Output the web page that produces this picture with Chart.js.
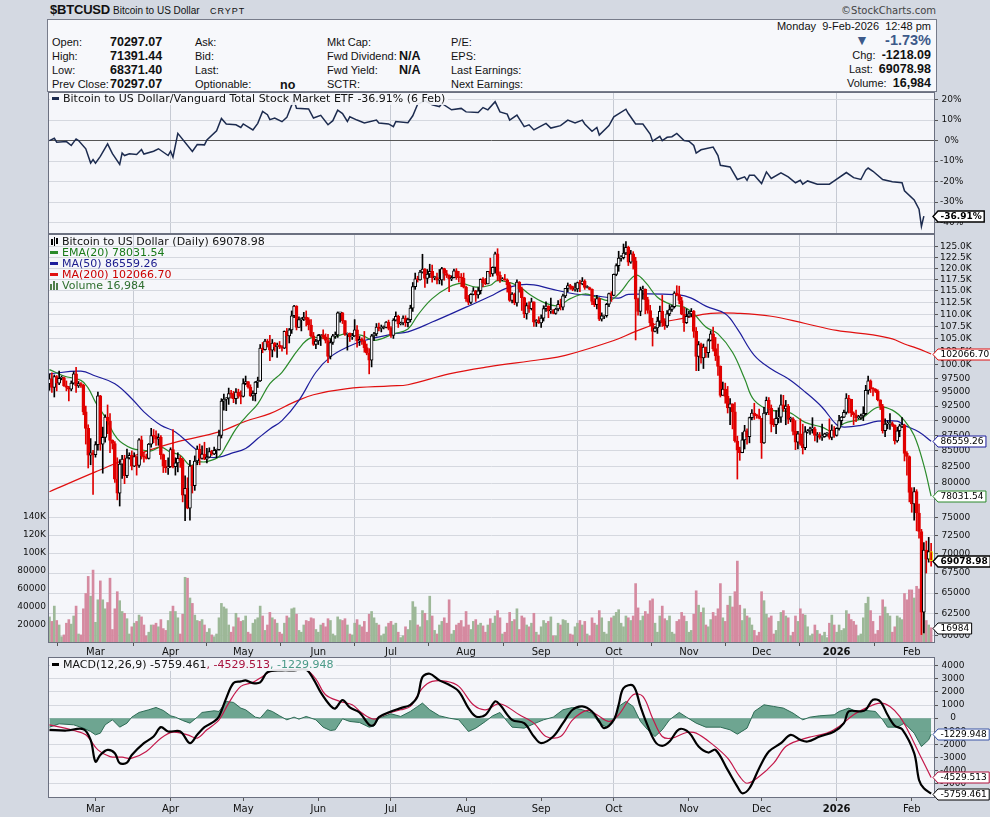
<!DOCTYPE html>
<html>
<head>
<meta charset="utf-8">
<title>$BTCUSD Bitcoin to US Dollar</title>
<script src="https://cdn.jsdelivr.net/npm/chart.js@4.4.0/dist/chart.umd.min.js"></script>
<style>
  html, body { margin: 0; padding: 0; }
  body { width: 990px; height: 817px; background: #d4d9e2; position: relative; overflow: hidden;
         font-family: "Liberation Sans", Arial, sans-serif; color: #111; }
  canvas { position: absolute; left: 0; }
  .t { position: absolute; white-space: nowrap; line-height: 14px; font-size: 11px; }
  .b { font-weight: bold; font-size: 12.5px; }
  .lg { position: absolute; font-family: "DejaVu Sans", Verdana, sans-serif; font-size: 11px; line-height: 11px;
        white-space: nowrap; z-index: 2; }
  .mk { display: inline-block; width: 8px; height: 3px; vertical-align: middle; margin-right: 4px; position: relative; top: -1px; }
</style>
</head>
<body>
<div class="t b" style="left:50px;top:3px;font-size:13px;letter-spacing:-0.2px;">$BTCUSD</div>
<div class="t" style="left:113px;top:4px;font-size:10px;">Bitcoin to US Dollar</div>
<div class="t" style="left:210px;top:4px;font-size:9px;letter-spacing:1px;">CRYPT</div>
<div class="t" style="right:54px;top:4px;font-family:'DejaVu Sans';font-size:10px;color:#444;">&copy;StockCharts.com</div>

<div style="position:absolute;left:47px;top:19px;width:890px;height:73px;box-sizing:border-box;background:#f7f8fb;border:1px solid #777c8a;"></div>
<div class="t" style="left:52px;top:35px;">Open:</div>
<div class="t" style="left:52px;top:49px;">High:</div>
<div class="t" style="left:52px;top:63px;">Low:</div>
<div class="t" style="left:52px;top:77px;">Prev Close:</div>
<div class="t b" style="left:110px;top:35px;">70297.07</div>
<div class="t b" style="left:110px;top:49px;">71391.44</div>
<div class="t b" style="left:110px;top:63px;">68371.40</div>
<div class="t b" style="left:110px;top:77px;">70297.07</div>
<div class="t" style="left:195px;top:35px;">Ask:</div>
<div class="t" style="left:195px;top:49px;">Bid:</div>
<div class="t" style="left:195px;top:63px;">Last:</div>
<div class="t" style="left:195px;top:77px;">Optionable:</div>
<div class="t b" style="left:280px;top:78px;">no</div>
<div class="t" style="left:327px;top:35px;">Mkt Cap:</div>
<div class="t" style="left:327px;top:49px;">Fwd Dividend:</div>
<div class="t" style="left:327px;top:63px;">Fwd Yield:</div>
<div class="t" style="left:327px;top:77px;">SCTR:</div>
<div class="t b" style="left:399px;top:49px;">N/A</div>
<div class="t b" style="left:399px;top:63px;">N/A</div>
<div class="t" style="left:451px;top:35px;">P/E:</div>
<div class="t" style="left:451px;top:49px;">EPS:</div>
<div class="t" style="left:451px;top:63px;">Last Earnings:</div>
<div class="t" style="left:451px;top:77px;">Next Earnings:</div>
<div class="t" style="right:59px;top:19px;font-size:11px;">Monday&nbsp; 9-Feb-2026&nbsp; 12:48 pm</div>
<div class="t" style="left:855px;top:33px;font-size:14px;color:#3d5a8a;">&#9660;</div>
<div class="t b" style="right:59px;top:33px;font-size:14.5px;color:#3d5a8a;">-1.73%</div>
<div class="t" style="right:59px;top:48px;">Chg:&nbsp; <b style="font-size:12.5px">-1218.09</b></div>
<div class="t" style="right:59px;top:62px;">Last:&nbsp; <b style="font-size:12.5px">69078.98</b></div>
<div class="t" style="right:59px;top:76px;">Volume:&nbsp; <b style="font-size:12.5px">16,984</b></div>

<canvas id="rel" width="990" height="142" style="top:92px"></canvas>
<canvas id="price" width="990" height="423" style="top:234px"></canvas>
<canvas id="macd" width="990" height="160" style="top:657px"></canvas>

<div class="lg" style="left:50px;top:93px;padding:0 3px 1px 2px;background:rgba(245,246,250,0.9);">
  <span class="mk" style="background:#1c2b4f;width:7px"></span>Bitcoin to US Dollar/Vanguard Total Stock Market ETF -36.91% (6 Feb)</div>
<div class="lg" style="left:50px;top:236px;">
  <div><svg width="9" height="9" style="vertical-align:-1px;margin-right:3px"><rect x="1" y="2" width="2" height="6" fill="#000"/><rect x="4" y="0" width="1" height="9" fill="#000"/><rect x="6" y="1" width="2" height="6" fill="#000"/></svg>Bitcoin to US Dollar (Daily) 69078.98</div>
  <div style="color:#1a7a1a"><span class="mk" style="background:#2a8a2a"></span>EMA(20) 78031.54</div>
  <div style="color:#1a1a8c"><span class="mk" style="background:#1d1d9c"></span>MA(50) 86559.26</div>
  <div style="color:#cc0000"><span class="mk" style="background:#e01010"></span>MA(200) 102066.70</div>
  <div style="color:#2f6f2f"><svg width="9" height="9" style="vertical-align:-1px;margin-right:3px"><rect x="0" y="3" width="2" height="6" fill="#4f7f4a"/><rect x="3" y="0" width="2" height="9" fill="#4f7f4a"/><rect x="6" y="2" width="2" height="7" fill="#4f7f4a"/></svg>Volume 16,984</div>
</div>
<div class="lg" style="left:50px;top:659px;padding:0 3px 1px 2px;background:rgba(245,246,250,0.9);">
  <span class="mk" style="background:#000;width:7px"></span>MACD(12,26,9) -5759.461<span style="color:#a8123e">, -4529.513</span><span style="color:#4a9a88">, -1229.948</span></div>

<script>
// ---- axis categories: day 0 = 10 Feb 2025, day 364 = 9 Feb 2026 ----
const monthDays = [19, 50, 80, 111, 141, 172, 203, 233, 264, 294, 325, 356];
const monthNames = ['Mar', 'Apr', 'May', 'Jun', 'Jul', 'Aug', 'Sep', 'Oct', 'Nov', 'Dec', '2026', 'Feb'];
const quarterDays = [50, 141, 233, 325];

// ---- daily candles, thousands of USD ----
const opens = [
  96.5,97.4,95.8,97.8,96.6,97.5,97.6,96.1,95.8,95.5,96.6,98.3,96.1,96.5,96.2,91.5,88.7,84.3,84.7,
  84.4,86.0,94.3,86.1,87.2,90.6,89.9,86.7,86.2,80.6,78.5,82.9,83.7,81.1,83.9,84.3,82.6,84.1,82.7,86.8,84.2,84.0,83.8,86.1,87.5,87.4,86.9,87.2,84.4,82.6,82.3,
  82.5,85.2,82.5,83.1,83.8,83.5,78.2,79.2,76.3,82.6,79.6,83.4,85.3,83.8,84.5,83.7,84.0,84.9,84.5,85.1,85.2,87.5,93.4,93.7,93.9,94.7,94.6,93.8,95.0,94.3,
  94.2,96.5,96.9,95.9,94.3,94.7,96.8,97.0,103.2,102.9,104.6,104.1,102.8,104.2,103.5,103.8,103.5,103.2,106.5,105.6,106.8,109.7,111.7,107.3,108.9,109.0,109.4,108.9,107.8,105.6,103.9,
  104.6,105.7,105.8,105.4,104.7,101.6,104.3,105.6,105.8,110.3,110.3,108.7,105.9,106.1,105.4,105.6,106.8,104.6,104.9,104.6,103.3,102.2,100.9,105.6,106.0,107.4,107.1,107.3,107.3,108.4,
  107.1,105.7,108.8,109.6,108.0,108.2,109.2,108.3,108.9,111.3,115.9,117.6,117.4,119.1,119.8,117.7,118.7,119.3,117.9,117.9,117.3,117.4,119.9,118.8,118.4,117.6,117.9,119.4,118.0,117.9,117.8,
  115.8,113.3,112.5,114.2,115.0,114.1,115.0,117.5,116.7,116.5,119.3,118.7,120.2,123.3,118.4,117.4,117.5,117.4,116.3,112.9,114.3,112.4,116.9,115.4,113.5,110.1,111.8,111.2,112.6,108.4,108.8,
  108.2,109.2,111.2,111.7,110.7,110.7,110.2,111.1,112.1,111.5,113.9,115.5,116.1,115.9,115.3,115.4,116.8,116.5,117.1,115.7,115.7,115.3,112.7,112.0,113.3,109.0,109.7,109.7,112.1,114.4,
  114.0,118.6,120.6,122.3,122.4,123.5,124.8,121.4,123.3,121.7,113.2,110.6,115.2,115.3,113.1,110.8,108.2,106.5,107.2,108.6,110.6,108.5,107.6,110.1,111.0,111.6,114.5,114.1,112.9,110.0,108.3,
  109.6,110.1,110.6,106.5,101.6,103.9,101.3,103.4,102.3,104.7,106.0,103.1,101.7,99.7,94.4,95.5,94.2,92.2,92.9,91.5,86.6,85.1,84.7,86.8,88.3,87.3,90.5,91.3,90.9,90.8,
  90.4,86.3,91.3,93.5,92.1,89.4,89.3,90.4,90.6,92.7,92.0,92.5,90.2,90.3,88.2,86.4,87.8,86.1,85.5,88.1,88.3,88.6,88.6,87.5,87.6,87.2,87.3,87.8,87.8,87.2,88.4,
  87.5,88.7,90.0,90.6,91.4,93.9,93.7,91.3,91.0,90.5,90.5,90.8,91.2,95.3,97.0,95.6,95.5,95.1,93.6,92.5,88.3,89.4,89.5,89.5,89.2,86.6,88.3,89.1,89.2,84.6,84.1,
  78.6,76.9,78.7,75.6,73.0,62.7,70.5,69.3,70.297
];
const highs = [
  98.3,98.5,98.1,98.0,98.8,97.9,97.7,97.0,96.0,97.0,98.7,99.5,96.9,96.7,96.4,92.5,89.3,87.0,85.1,
  86.5,95.0,94.4,88.9,91.0,92.7,91.2,86.8,86.5,83.9,83.6,84.3,84.3,85.3,84.7,85.0,84.7,84.1,87.0,87.4,84.8,84.5,86.2,88.7,88.5,88.3,87.8,87.5,84.5,83.5,83.9,
  85.5,88.5,83.9,84.7,84.2,83.8,81.1,80.8,83.5,82.7,84.2,85.8,86.1,85.8,86.4,85.4,85.5,85.1,85.6,85.3,88.4,93.8,94.6,94.0,95.7,95.3,95.1,95.6,95.5,95.2,
  97.4,97.9,96.9,96.3,95.2,96.9,97.7,103.9,104.3,104.9,104.9,105.7,104.9,104.3,104.2,104.5,103.7,106.6,107.1,107.1,110.7,111.9,111.8,109.5,109.3,110.4,110.7,109.3,108.9,106.3,104.9,
  105.9,105.9,106.8,106.0,105.9,105.0,105.9,106.4,110.5,110.4,110.4,108.7,106.2,106.2,106.1,108.9,107.7,105.5,105.2,106.5,104.0,103.1,105.9,106.3,108.1,108.2,107.8,107.6,108.5,108.8,
  107.5,109.1,110.5,109.8,108.4,109.7,109.7,109.2,111.9,116.8,118.9,118.2,119.5,123.2,119.9,119.7,120.9,120.7,118.2,118.9,119.7,120.2,120.0,119.5,118.5,118.3,119.8,119.9,119.3,118.8,118.9,
  116.0,114.0,114.4,115.7,115.1,115.7,117.6,117.9,117.7,119.3,122.3,120.3,123.7,124.5,119.2,117.9,118.6,117.6,116.8,114.6,114.5,117.4,117.0,115.8,113.6,112.4,112.6,113.4,112.6,108.9,109.5,
  109.9,111.8,112.6,111.8,113.4,111.0,111.3,112.9,113.2,114.3,115.5,116.7,116.4,116.0,116.7,116.9,117.3,117.9,117.4,116.1,115.8,115.4,113.3,114.0,113.5,110.3,109.8,112.3,114.5,114.8,
  118.7,121.0,123.9,122.9,125.6,126.2,125.1,124.1,123.8,122.5,113.4,115.8,116.0,115.4,113.6,111.9,109.2,107.5,109.4,111.7,114.0,109.1,110.8,112.0,111.9,114.8,116.1,116.0,113.6,111.4,111.1,
  110.6,111.2,110.8,107.3,104.5,104.2,104.0,103.4,105.0,106.6,107.4,105.3,104.0,99.8,96.8,96.6,96.0,93.8,92.9,93.1,87.4,85.6,88.0,89.2,88.6,90.6,91.9,93.0,91.1,92.0,
  90.4,92.3,94.1,94.0,92.7,90.3,91.7,92.2,94.5,94.4,93.5,92.8,90.6,90.5,90.0,88.2,90.3,89.4,89.0,88.5,88.9,90.5,88.9,88.0,88.0,89.4,87.9,88.0,90.3,89.3,89.0,
  88.8,90.9,90.7,91.8,94.7,94.4,93.7,91.5,91.8,90.9,91.1,92.4,96.2,97.9,97.2,95.8,95.6,95.4,93.6,92.8,90.3,90.0,91.2,89.8,89.3,88.9,89.4,90.5,89.4,84.9,84.2,
  79.3,79.3,79.0,76.9,73.3,71.5,71.7,72.2,71.391
];
const lows = [
  95.3,94.9,94.1,95.2,96.3,97.2,96.0,95.2,93.4,95.2,96.4,94.9,95.8,95.8,91.0,86.1,82.3,82.8,78.3,
  84.0,85.1,85.1,81.5,86.4,87.8,84.7,85.3,80.1,77.5,76.6,80.7,79.9,80.8,83.7,82.0,82.5,81.2,82.4,83.7,83.2,83.7,83.7,85.6,86.3,85.9,85.9,83.7,81.6,81.6,81.3,
  82.4,82.3,81.2,81.7,82.4,77.2,74.5,76.2,74.6,78.5,78.9,82.8,82.8,83.7,83.6,83.1,83.9,84.3,84.4,83.9,85.1,87.1,91.8,91.7,92.8,93.9,93.1,92.9,93.9,92.9,
  94.1,96.3,95.7,94.2,93.5,93.4,95.8,96.9,102.3,102.8,103.4,100.8,101.5,102.6,101.4,103.1,102.6,103.1,102.0,104.2,106.1,109.3,106.8,107.3,106.6,108.7,107.6,106.8,105.4,103.7,103.1,
  103.9,103.7,105.0,104.2,100.4,101.1,103.9,105.1,105.3,108.4,108.1,105.7,102.8,104.5,104.9,105.5,103.4,103.7,103.9,102.4,101.9,98.3,99.6,104.7,105.6,106.6,106.4,107.0,107.2,106.8,
  105.3,105.1,108.6,107.3,107.8,107.8,107.5,107.4,108.4,110.6,115.3,116.9,117.3,118.9,115.7,116.6,117.9,116.9,117.4,116.5,116.5,116.2,117.3,117.9,114.8,117.2,117.8,117.5,116.9,115.9,115.6,
  112.7,112.0,112.2,114.1,112.7,113.4,114.3,115.9,116.3,116.5,118.1,118.2,118.9,117.2,116.8,117.2,117.3,114.7,112.7,112.4,112.0,111.7,114.7,110.8,109.3,109.0,110.4,110.9,107.5,107.5,108.1,
  107.3,108.6,110.6,109.3,110.2,110.1,110.0,110.7,110.9,110.9,113.5,114.8,115.3,115.0,114.9,114.8,114.8,116.3,115.3,115.6,115.2,112.0,111.6,111.1,108.7,108.6,109.1,109.4,111.6,112.7,
  113.9,118.3,119.3,121.6,122.1,123.1,120.6,121.1,119.8,104.8,109.8,109.7,113.2,110.1,110.2,107.6,103.6,106.4,106.1,107.5,107.5,106.9,107.3,109.7,110.6,111.3,113.9,112.2,109.9,106.5,108.1,
  109.4,109.5,105.3,98.9,98.9,100.3,99.3,101.4,101.4,104.6,102.6,100.8,98.0,94.1,94.4,93.0,91.3,89.3,88.6,86.4,80.6,83.5,84.7,85.3,86.1,86.3,90.1,90.2,90.4,90.3,
  83.8,86.2,91.0,91.0,88.1,89.0,87.8,89.6,89.7,91.6,89.3,89.5,89.8,87.6,85.2,85.3,85.9,84.5,85.2,87.9,87.7,87.9,86.6,86.4,86.9,86.7,87.2,87.4,86.9,86.8,87.2,
  87.4,88.4,89.3,90.5,91.1,91.3,90.7,89.3,89.8,90.3,90.2,90.0,91.0,94.6,94.9,94.3,94.9,93.4,91.9,87.9,87.3,88.6,88.5,89.0,86.1,86.4,87.3,88.8,83.4,81.2,77.2,
  75.7,74.6,73.1,72.1,60.1,60.3,67.5,68.9,68.371
];
const closes = [
  97.4,95.8,97.8,96.6,97.5,97.6,96.1,95.8,95.5,96.6,98.3,96.1,96.5,96.2,91.5,88.7,84.3,84.7,84.4,
  86.0,94.3,86.1,87.2,90.6,89.9,86.7,86.2,80.6,78.5,82.9,83.7,81.1,83.9,84.3,82.6,84.1,82.7,86.8,84.2,84.0,83.8,86.1,87.5,87.4,86.9,87.2,84.4,82.6,82.3,82.5,
  85.2,82.5,83.1,83.8,83.5,78.2,79.2,76.3,82.6,79.6,83.4,85.3,83.8,84.5,83.7,84.0,84.9,84.5,85.1,85.2,87.5,93.4,93.7,93.9,94.7,94.6,93.8,95.0,94.3,94.2,
  96.5,96.9,95.9,94.3,94.7,96.8,97.0,103.2,102.9,104.6,104.1,102.8,104.2,103.5,103.8,103.5,103.2,106.5,105.6,106.8,109.7,111.7,107.3,108.9,109.0,109.4,108.9,107.8,105.6,103.9,104.6,
  105.7,105.8,105.4,104.7,101.6,104.3,105.6,105.8,110.3,110.3,108.7,105.9,106.1,105.4,105.6,106.8,104.6,104.9,104.6,103.3,102.2,100.9,105.6,106.0,107.4,107.1,107.3,107.3,108.4,107.1,
  105.7,108.8,109.6,108.0,108.2,109.2,108.3,108.9,111.3,115.9,117.6,117.4,119.1,119.8,117.7,118.7,119.3,117.9,117.9,117.3,117.4,119.9,118.8,118.4,117.6,117.9,119.4,118.0,117.9,117.8,115.8,
  113.3,112.5,114.2,115.0,114.1,115.0,117.5,116.7,116.5,119.3,118.7,120.2,123.3,118.4,117.4,117.5,117.4,116.3,112.9,114.3,112.4,116.9,115.4,113.5,110.1,111.8,111.2,112.6,108.4,108.8,108.2,
  109.2,111.2,111.7,110.7,110.7,110.2,111.1,112.1,111.5,113.9,115.5,116.1,115.9,115.3,115.4,116.8,116.5,117.1,115.7,115.7,115.3,112.7,112.0,113.3,109.0,109.7,109.7,112.1,114.4,114.0,
  118.6,120.6,122.3,122.4,123.5,124.8,121.4,123.3,121.7,113.2,110.6,115.2,115.3,113.1,110.8,108.2,106.5,107.2,108.6,110.6,108.5,107.6,110.1,111.0,111.6,114.5,114.1,112.9,110.0,108.3,109.6,
  110.1,110.6,106.5,101.6,103.9,101.3,103.4,102.3,104.7,106.0,103.1,101.7,99.7,94.4,95.5,94.2,92.2,92.9,91.5,86.6,85.1,84.7,86.8,88.3,87.3,90.5,91.3,90.9,90.8,90.4,
  86.3,91.3,93.5,92.1,89.4,89.3,90.4,90.6,92.7,92.0,92.5,90.2,90.3,88.2,86.4,87.8,86.1,85.5,88.1,88.3,88.6,88.6,87.5,87.6,87.2,87.3,87.8,87.8,87.2,88.4,87.5,
  88.7,90.0,90.6,91.4,93.9,93.7,91.3,91.0,90.5,90.5,90.8,91.2,95.3,97.0,95.6,95.5,95.1,93.6,92.5,88.3,89.4,89.5,89.5,89.2,86.6,88.3,89.1,89.2,84.6,84.1,78.6,
  76.9,78.7,75.6,73.0,62.7,70.5,69.3,70.297,69.079
];
// daily volume, thousands
const volumes = [
  29,24,41,25,20,7,9,22,26,21,30,41,10,9,38,55,74,52,81,
  23,48,69,48,38,45,72,15,38,57,47,35,33,27,10,18,22,24,31,29,20,8,12,20,20,22,18,26,16,14,25,
  35,41,35,28,10,32,73,72,50,44,31,25,24,26,20,12,16,9,7,10,28,44,40,38,20,12,18,33,28,24,
  25,30,12,10,22,26,28,41,30,14,20,34,28,26,22,12,10,22,30,28,38,39,32,14,12,20,25,24,28,27,15,
  12,20,22,18,27,25,10,8,29,26,25,27,20,10,9,22,26,20,18,24,12,32,35,28,22,20,8,10,18,22,
  24,20,22,12,6,8,18,15,25,46,40,20,18,36,33,25,52,30,14,10,20,24,28,22,48,10,14,20,22,25,18,
  35,20,15,24,26,20,22,19,12,20,27,22,30,36,28,10,12,22,34,24,26,38,15,30,28,20,18,22,33,12,9,
  18,25,22,24,29,8,8,22,20,26,25,22,10,9,18,22,25,20,24,10,8,28,22,20,36,28,12,10,24,28,
  30,34,37,22,18,30,28,25,30,66,39,25,30,35,32,47,49,22,12,30,41,27,25,30,12,10,24,26,34,30,24,
  12,14,32,58,42,34,39,20,18,26,34,30,38,66,28,24,42,52,40,57,91,42,25,38,30,28,20,14,8,12,
  57,47,32,28,30,10,14,24,34,36,30,28,8,12,30,24,38,32,31,18,8,10,20,14,10,8,12,6,22,31,20,
  12,20,14,16,36,32,26,24,20,8,10,28,44,51,36,24,10,14,30,48,40,33,30,12,18,30,28,26,55,48,59,
  59,50,63,60,68,35,25,20,16.984
];

// ---- overlays (day, thousands of USD) ----
const ema20Days = [0,6,13,16,19,23,28,34,39,42,46,50,54,58,61,65,70,73,77,81,86,91,96,103,108,116,122,129,134,142,
  148,152,158,165,170,176,182,185,193,198,204,210,215,221,226,231,235,242,246,251,257,262,266,271,276,282,287,291,298,305,
  312,319,324,328,335,342,348,353,357,361,364];
const ema20Vals = [99.1,97.9,97.1,95.7,93.2,90.6,87.0,85.4,85.1,85.0,85.6,84.8,84.3,82.7,83.2,83.3,84.1,85.9,88.6,90.6,92.9,96.5,98.6,103.1,105.2,105.1,106.0,105.7,104.7,106.0,
  107.0,109.8,113.3,115.8,116.6,115.8,116.2,117.2,116.2,114.3,112.5,111.8,113.3,114.3,113.6,112.9,114.3,118.4,116.9,113.6,112.0,111.5,110.1,107.4,106.0,102.4,97.4,93.5,91.8,91.5,
  89.7,88.9,88.1,89.5,90.3,92.3,91.8,90.0,87.5,82.7,78.03];
const ma50Days = [0,13,19,27,34,39,46,52,60,65,70,75,81,86,91,96,103,110,116,123,130,142,148,158,172,182,188,194,200,207,
  217,224,235,239,260,265,271,279,284,291,298,305,312,319,325,328,335,342,350,353,359,364];
const ma50Vals = [98.3,98.8,97.9,96.5,93.8,91.5,89.2,88.1,85.4,84.1,84.0,84.6,85.4,87.0,88.6,90.0,93.5,98.6,101.5,103.4,104.7,106.0,106.4,108.4,111.5,113.8,115.4,116.3,116.3,115.4,
  114.3,114.0,113.4,114.2,114.1,113.4,111.7,110.1,107.0,101.8,99.2,97.4,95.0,92.3,89.3,88.9,89.2,89.9,89.9,89.2,88.1,86.56];
const ma200Days = [0,19,39,53,70,81,91,101,109,123,141,148,165,181,203,213,233,242,251,262,273,284,298,312,325,340,348,353,358,364];
const ma200Vals = [78.7,81.7,84.8,86.5,88.1,89.9,91.2,93.2,94.5,95.6,96.1,96.3,98.3,99.6,101.0,101.8,104.7,106.5,108.1,109.2,110.2,110.2,109.6,108.1,106.7,105.8,105.0,104.0,103.2,102.07];

// ---- BTC relative to VTI, % ----
const relDays = [0,2,3,7,9,11,12,15,17,18, 19,21,24,26,29,30,31,33,36,38, 39,43,45,49,50,51,53,59,61,64,
  65,69,71,73,77,79,80,84,86,88, 90,91,93,96,98,100,101,102,107,109, 112,115,117,119,121,123,124,127,130,135,
  136,140,142,143,148,150,152,155,158,161, 162,166,170,172,177,179,181,184,186,189, 190,193,196,198,200,205,207,211,214,217,
  220,221,224,226,227,231,233,238,239,242, 245,248,249,252,253,255,257,259,262,264, 266,267,269,274,276,277,281,284,287,288,
  289,291,294,296,298,302,305,308,310,311, 313,317,322,324,329,332,335,337,338,340, 344,348,352,353,357,359,360,361];
const relPct = [0,1.1,-0.8,-0.5,-2.4,0.8,0,-4,-11,-9.3, -11,-7.7,-1.6,-6.4,-11.6,-6.1,-7.3,-6.4,-6.8,-4.4, -6.6,-5.2,-4,-7.3,-5.2,-8.1,3.5,-5.3,-1.9,-2.1,
  0.3,4.8,10.8,8.1,7.7,6.4,8.1,5.2,8.4,14.2, 12.6,10.2,11,9.2,11.3,17.3,19.5,15.8,15.4,11, 12.3,7.7,9.7,14.8,13.2,9.3,11.6,10,8.6,10,
  8.6,8.1,6.8,9.3,8.7,12.1,17.7,19.5,17.4,16.6, 18.1,15,15.7,14,13.7,16.1,15,19,14,12.9, 10,12.4,6.8,7.7,5.2,8.4,6.1,7.3,10,8.6,
  10,8.1,4.5,6.4,2.7,7.3,11.6,15.3,13.2,8.1, 8.1,3.2,-0.3,2.1,0,1.6,1.9,3.5,0,-0.3, -2.4,-6.1,-4.5,-3.2,-7.3,-12.1,-12.9,-19,-17.7,-19.4,
  -16.9,-16.9,-21,-15.3,-18.5,-15.8,-17.7,-20.6,-19.4,-21.3, -19.7,-21.3,-21.3,-19.7,-15.6,-18.1,-19,-14.5,-13.4,-15, -19,-20.1,-20.6,-24.5,-29,-33.5,-41.9,-36.91];

// ---- MACD(12,26,9) ----
const macdDays = [0,7,14,17,19,21,24,27,29,32, 34,39,43,46,49,54,58,61,64,68, 70,73,76,79,81,84,87,90,96,101,
  106,109,112,116,118,121,124,128,132,134, 136,141,145,149,152,154,157,161,165,169, 173,176,180,184,186,191,196,200,203,208,
  212,216,220,224,227,229,233,235,237,241, 244,246,250,253,256,260,264,268,272,275, 280,284,286,289,293,297,302,306,310,313,
  318,324,328,330,335,337,340,343,346,349, 352,357,359,361,364];
const macdVals = [-895,-946,-844,-1662,-3320,-2810,-2424,-2678,-3443,-3392, -2810,-1913,-1403,-688,-1020,-1020,-1913,-1275,-688,-255,
  128,1530,2678,2806,2882,2678,2730,3500,3650,3650, 3700,2985,1964,944,740,1378,816,434,-510,-510, 77,510,765,1020,1658,3137,3392,2882,2550,2040,
  765,128,255,1275,1020,-128,-383,-1403,-1913,-1403, -383,638,893,510,-255,-765,-128,1020,2296,2474, 893,-128,-1786,-2117,-1786,-842,-1097,-2168,-2627,-2424,
  -3953,-5228,-5738,-5355,-3826,-2551,-1913,-1275,-1658,-1786, -1403,-1020,-383,510,510,638,1403,1275,255,-587, -842,-2678,-4719,-5355,-5759];
const signalDays = [0,10,15,20,25,30,34,40,46,51, 57,61,65,70,74,79,84,88,92,101, 106,110,114,120,125,129,134,139,145,149,
  154,158,164,169,175,180,186,194,200,205, 211,216,222,226,231,235,241,245,249,253, 257,263,267,274,280,285,288,293,299,304,
  310,315,321,326,332,337,343,347,351,355, 359,364];
const signalVals = [-510,-946,-1275,-2424,-2934,-2985,-3060,-2551,-1530,-1071, -1275,-1530,-893,-128,1148,2423,2730,3188,3648,3700,
  3700,2985,1785,1275,1020,383,-77,330,638,893, 2296,2806,2806,2423,1020,638,1100,255,-383,-1403,
  -1403,-128,587,255,-255,255,1786,1658,0,-1403, -1530,-1097,-1148,-2040,-3060,-4464,-4974,-4464,-3443,-2168,
  -1658,-1403,-1148,-638,255,765,1148,893,128,-1148, -2678,-4530];
const histDays = [0,4,10,14,17,19,21,23,26,29, 32,34,37,41,44,47,50,52,55,58, 61,63,68,70,73,76,79,81,85,87,
  90,92,95,98,101,103,106,110,113,116, 118,121,124,128,132,134,136,141,145,149, 152,154,157,161,165,169,173,176,180,183,
  186,189,191,196,200,204,208,212,216,220, 224,227,230,233,235,238,241,244,247,250, 253,256,260,263,267,271,277,281,284,288,
  291,295,299,303,307,311,314,318,324,326, 330,333,337,341,344,346,350,353,357,360, 363,364];
const histVals = [-688,-434,-510,-765,-1020,-1275,-1148,-510,-128,-688, -383,77,434,638,816,587,179,77,-179,-383,
  77,434,561,510,1275,1199,765,638,77,0, 638,510,179,-128,77,-77,128,-128,-688,-946, -893,-51,-255,-332,-688,-600,0,332,128,510,
  893,1148,638,179,0,-128,-1020,-765,-255,179, 434,-255,-688,-765,-434,-128,77,638,816,638, 383,-383,-688,-128,893,1275,893,-255,-893,-1403,
  -893,-128,434,77,-383,-688,-688,-893,-1224,-765, 510,1020,893,765,383,-128,77,179,255,510, 765,510,587,510,-128,-688,-688,-383,-1148,-2168,
  -1658,-1230];

// ---- tick labels and last-value tags ----
const priceTicks = [60,62.5,65,67.5,70,72.5,75,77.5,80,82.5,85,87.5,90,92.5,95,97.5,100,102.5,105,107.5,110,112.5,115,117.5,120,122.5,125];
const volumeTicks = [20,40,60,80,100,120,140];
const relTicks = [-40,-30,-20,-10,0,10,20];
const macdTicks = [-5000,-4000,-3000,-2000,-1000,0,1000,2000,3000,4000];

const RED = '#e00000', BLACK = '#000000', PLOT_BG = '#f5f6fa', GRID = '#d5d8df', FRAME = '#6b7080';
Chart.defaults.font.family = '"DejaVu Sans", Verdana, sans-serif';
Chart.defaults.font.size = 9;
Chart.defaults.color = '#111';

const pts = (xs, ys) => xs.map((x, i) => ({ x: x, y: ys[i] }));
const isDown = i => closes[i] < opens[i];
// drop the half-label padding Chart.js reserves, so plot areas butt against each other
const noPad = s => { s.paddingTop = 0; s.paddingBottom = 0; s.paddingLeft = 0; s.paddingRight = 0; };

function panel(tags) {
  return {
    id: 'panel',
    beforeDraw(chart) {
      const { ctx, chartArea: a } = chart;
      ctx.save();
      ctx.fillStyle = PLOT_BG;
      ctx.fillRect(a.left, a.top, a.right - a.left, a.bottom - a.top);
      ctx.restore();
    },
    afterDraw(chart) {
      const { ctx, chartArea: a } = chart;
      ctx.save();
      ctx.strokeStyle = FRAME;
      ctx.lineWidth = 1;
      ctx.strokeRect(a.left + 0.5, a.top + 0.5, a.right - a.left - 1, a.bottom - a.top - 1);
      tags.forEach(t => {
        const y = Math.round(chart.scales[t.axis].getPixelForValue(t.value)) + 0.5;
        ctx.font = (t.bold ? 'bold ' : '') + '9px "DejaVu Sans"';
        const w = ctx.measureText(t.text).width + 5;
        const x0 = a.right - 2, x1 = x0 + 5, h = 5.5;
        ctx.beginPath();
        ctx.moveTo(x0, y); ctx.lineTo(x1, y - h); ctx.lineTo(x1 + w, y - h);
        ctx.lineTo(x1 + w, y + h); ctx.lineTo(x1, y + h); ctx.closePath();
        ctx.fillStyle = '#ffffff'; ctx.fill();
        ctx.strokeStyle = t.color; ctx.lineWidth = t.bold ? 1.4 : 1; ctx.stroke();
        ctx.fillStyle = '#000'; ctx.textBaseline = 'middle'; ctx.textAlign = 'left';
        ctx.fillText(t.text, x1 + 2.5, y + 0.5);
      });
      ctx.restore();
    }
  };
}

function xAxis(labels, height, pad) {
  return {
    type: 'linear', min: -0.6, max: 365.6, offset: false,
    afterBuildTicks: s => { s.ticks = monthDays.map(v => ({ value: v })); },
    afterFit: s => { s.height = height; noPad(s); },
    border: { display: false },
    grid: {
      color: c => (c.tick && quarterDays.includes(c.tick.value)) ? '#c6cad3' : 'rgba(0,0,0,0)',
      tickColor: '#555', tickLength: 3, drawTicks: labels
    },
    ticks: {
      display: labels, autoSkip: false, maxRotation: 0, padding: pad, color: '#111',
      font: c => ({ size: 10, weight: (c.tick && c.tick.value === 325) ? 'bold' : 'normal' }),
      callback: v => monthNames[monthDays.indexOf(v)]
    }
  };
}

function yRight(min, max, ticks, fmt, gridColor) {
  return {
    type: 'linear', position: 'right', min: min, max: max,
    afterBuildTicks: s => { s.ticks = ticks.map(v => ({ value: v })); },
    afterFit: s => { s.width = 46; noPad(s); },
    border: { display: false },
    grid: { color: gridColor || GRID, tickColor: '#555', tickLength: 3 },
    ticks: { autoSkip: false, padding: 2, crossAlign: 'center', callback: fmt }
  };
}

const baseOptions = {
  responsive: false, animation: false, events: [],
  plugins: { legend: { display: false }, tooltip: { enabled: false } }
};

// ---- relative performance panel ----
new Chart(document.getElementById('rel'), {
  type: 'line',
  data: { datasets: [{
    data: pts(relDays, relPct), borderColor: '#1c2b4f', borderWidth: 1.5, pointRadius: 0, tension: 0
  }] },
  options: Object.assign({}, baseOptions, {
    layout: { padding: { left: 48, right: 9, top: 0, bottom: 0 } },
    scales: {
      x: xAxis(false, 0, 0),
      y: yRight(-45.6, 23.7, relTicks, v => v + '%', c => (c.tick && c.tick.value === 0) ? '#555' : GRID)
    }
  }),
  plugins: [panel([{ axis: 'y', value: -36.91, text: '-36.91%', color: '#000', bold: true }])]
});

// ---- price panel: candles, moving averages, volume ----
const dayIdx = closes.map((c, i) => i);
const priceY = yRight(59.15, 128.0, priceTicks, v => v >= 100 ? v.toFixed(1) + 'K' : String(Math.round(v * 1000)));
priceY.type = 'logarithmic';

new Chart(document.getElementById('price'), {
  type: 'bar',
  data: { datasets: [
    {
      type: 'bar', yAxisID: 'yv', order: 10, grouped: false, barThickness: 2,
      data: dayIdx.map(i => ({ x: i, y: volumes[i] })),
      backgroundColor: dayIdx.map(i => isDown(i) ? '#d58aa0' : '#9db898'),
      borderWidth: 0
    },
    { type: 'line', yAxisID: 'y', order: 6, data: pts(ma200Days, ma200Vals), borderColor: '#e01010', borderWidth: 1.2, pointRadius: 0, tension: 0.4 },
    { type: 'line', yAxisID: 'y', order: 5, data: pts(ma50Days, ma50Vals), borderColor: '#1d1d9c', borderWidth: 1.2, pointRadius: 0, tension: 0.4 },
    { type: 'line', yAxisID: 'y', order: 4, data: pts(ema20Days, ema20Vals), borderColor: '#2a8a2a', borderWidth: 1.2, pointRadius: 0, tension: 0.4 },
    {
      type: 'bar', yAxisID: 'y', order: 2, grouped: false, barThickness: 1,
      data: dayIdx.map(i => ({ x: i, y: [lows[i], highs[i]] })),
      backgroundColor: dayIdx.map(i => isDown(i) ? RED : BLACK), borderWidth: 0
    },
    {
      type: 'bar', yAxisID: 'y', order: 1, grouped: false, barThickness: 3, minBarLength: 1,
      data: dayIdx.map(i => ({ x: i, y: [opens[i], closes[i]] })),
      backgroundColor: dayIdx.map(i => isDown(i) ? RED : PLOT_BG),
      borderColor: dayIdx.map(i => i === 364 ? '#f0dc00' : (isDown(i) ? RED : BLACK)),
      borderWidth: 1, borderSkipped: false
    }
  ] },
  options: Object.assign({}, baseOptions, {
    layout: { padding: { left: 0, right: 9, top: 0, bottom: 0 } },
    scales: {
      x: xAxis(true, 14, 0),
      y: priceY,
      yv: {
        type: 'linear', position: 'left', min: 0, max: 454.4,
        afterBuildTicks: s => { s.ticks = volumeTicks.map(v => ({ value: v })); },
        afterFit: s => { s.width = 48; noPad(s); },
        border: { display: false },
        grid: { drawOnChartArea: false, drawTicks: false },
        ticks: { autoSkip: false, padding: 2, callback: v => v >= 100 ? v + 'K' : String(v * 1000) }
      }
    }
  }),
  plugins: [panel([
    { axis: 'y', value: 102.0667, text: '102066.70', color: '#e01010' },
    { axis: 'y', value: 86.55926, text: '86559.26', color: '#1d1d9c' },
    { axis: 'y', value: 78.03154, text: '78031.54', color: '#2a8a2a' },
    { axis: 'y', value: 69.07898, text: '69078.98', color: '#000', bold: true },
    { axis: 'yv', value: 16.984, text: '16984', color: '#000' }
  ])]
});

// ---- MACD panel ----
new Chart(document.getElementById('macd'), {
  type: 'line',
  data: { datasets: [
    { order: 3, data: pts(histDays, histVals), fill: 'origin', backgroundColor: 'rgba(86,150,126,0.85)',
      borderColor: '#2d6b55', borderWidth: 1, pointRadius: 0, tension: 0 },
    { order: 2, data: pts(signalDays, signalVals), borderColor: '#c4184a', borderWidth: 1.2, pointRadius: 0, tension: 0.35 },
    { order: 1, data: pts(macdDays, macdVals), borderColor: '#000', borderWidth: 2.2, pointRadius: 0, tension: 0.35 }
  ] },
  options: Object.assign({}, baseOptions, {
    layout: { padding: { left: 48, right: 9, top: 0, bottom: 0 } },
    scales: {
      x: xAxis(true, 19, 2),
      y: yRight(-6100, 4670, macdTicks, v => String(v))
    }
  }),
  plugins: [panel([
    { axis: 'y', value: -1229.948, text: '-1229.948', color: '#3a55a5' },
    { axis: 'y', value: -4529.513, text: '-4529.513', color: '#b0103c' },
    { axis: 'y', value: -5759.461, text: '-5759.461', color: '#000' }
  ])]
});
</script>
</body>
</html>
